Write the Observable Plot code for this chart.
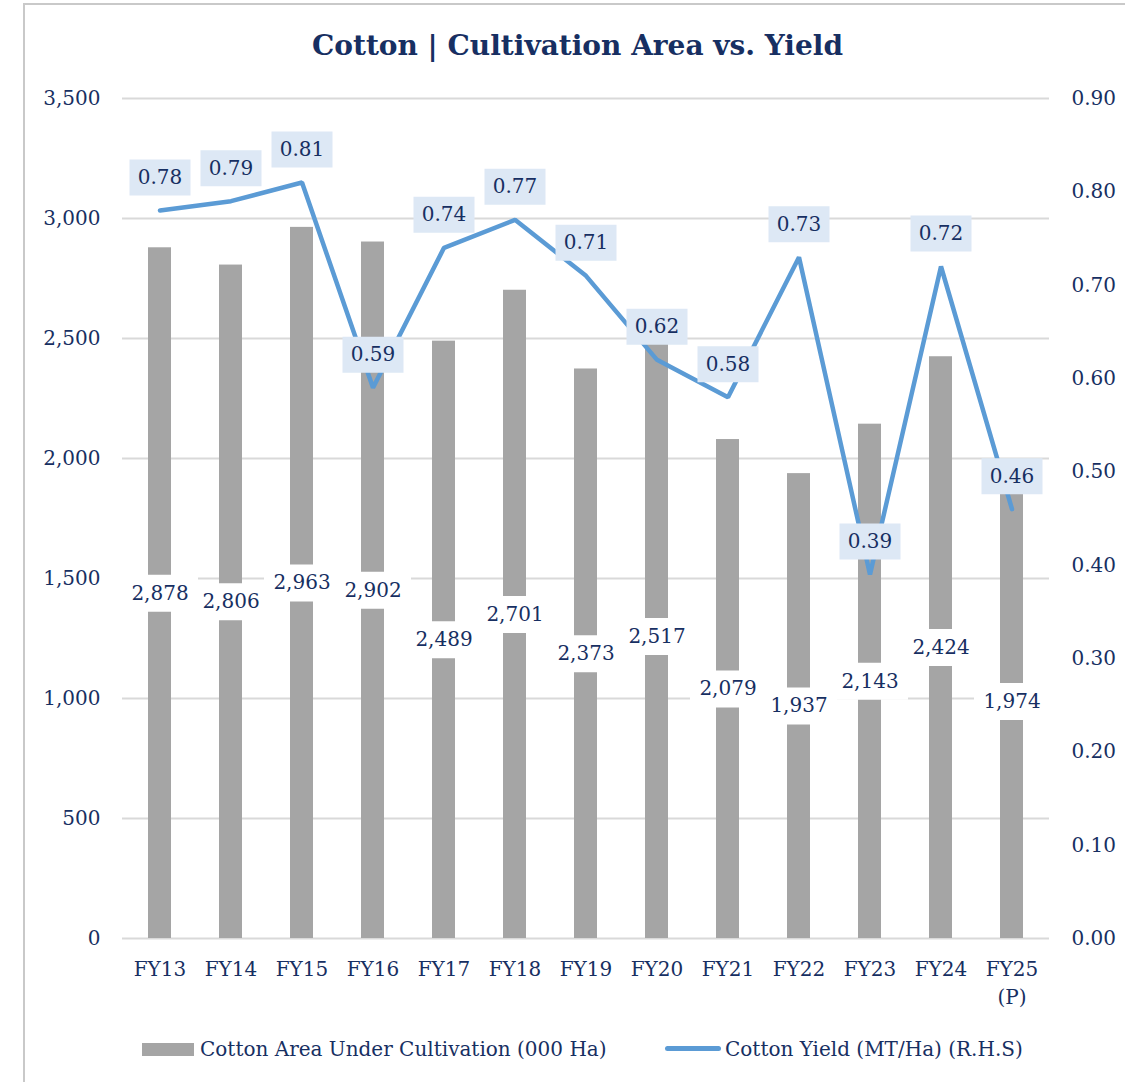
<!DOCTYPE html>
<html>
<head>
<meta charset="utf-8">
<script src="https://cdn.jsdelivr.net/npm/d3@7"></script>
<script src="https://cdn.jsdelivr.net/npm/@observablehq/plot@0.6"></script>
<style>
  body { margin: 0; background: #fff; font-family: "DejaVu Serif", serif; color: #172f62; }
  #page { position: relative; width: 1125px; height: 1082px; overflow: hidden; }
  #frame { position: absolute; left: 23px; top: 3px; width: 1200px; height: 1200px;
           border-left: 2px solid #c9c9c9; border-top: 2px solid #c9c9c9; }
  #title { position: absolute; left: 30px; width: 1095px; top: 27px; text-align: center;
           font-size: 28px; font-weight: bold; color: #172f62; line-height: 38px; }
  #chart { position: absolute; left: 0; top: 80px; }
  .sw { position: absolute; }
  .lg { position: absolute; font-size: 20px; line-height: 26px; color: #172f62; white-space: nowrap; }
</style>
</head>
<body>
<div id="page">
  <div id="frame"></div>
  <div id="title">Cotton | Cultivation Area vs. Yield</div>
  <div id="chart"></div>
  <div class="sw" style="left:142px;top:1043px;width:52px;height:13px;background:#a5a5a5"></div>
  <div class="lg" style="left:200px;top:1036px">Cotton Area Under Cultivation (000 Ha)</div>
  <div class="sw" style="left:665px;top:1046px;width:56px;height:5px;border-radius:3px;background:#5b9bd5"></div>
  <div class="lg" style="left:725px;top:1036px">Cotton Yield (MT/Ha) (R.H.S)</div>
</div>
<script>
const categories = ["FY13","FY14","FY15","FY16","FY17","FY18","FY19","FY20","FY21","FY22","FY23","FY24","FY25 (P)"];
const areaValues = [2878,2806,2963,2902,2489,2701,2373,2517,2079,1937,2143,2424,1974];
const yieldValues = [0.78,0.79,0.81,0.59,0.74,0.77,0.71,0.62,0.58,0.73,0.39,0.72,0.46];
const leftTicks = [0,500,1000,1500,2000,2500,3000,3500];
const rightTicks = [0,0.1,0.2,0.3,0.4,0.5,0.6,0.7,0.8,0.9];
const leftMax = 3500, rightMax = 0.9;

const k = leftMax / rightMax;
const data = categories.map((c, i) => ({cat: c, area: areaValues[i], yld: yieldValues[i]}));

const navy = "#172f62";
const rectSymbol = (w, h) => ({draw(ctx) { ctx.rect(-w/2, -h/2, w, h); ctx.closePath(); }});

const chart = Plot.plot({
  width: 1125,
  height: 940,
  marginLeft: 122,
  marginRight: 76,
  marginTop: 18,
  marginBottom: 82,
  style: {fontFamily: "'DejaVu Serif', serif", fontSize: "20px", color: navy, background: "transparent"},
  x: {domain: categories, paddingInner: 0.68, paddingOuter: 0.34, label: null},
  y: {domain: [0, leftMax], label: null},
  marks: [
    Plot.gridY(leftTicks, {stroke: "#d9d9d9", strokeOpacity: 1, strokeWidth: 2}),
    Plot.barY(data, {x: "cat", y: "area", fill: "#a5a5a5"}),
    Plot.dot(data, {x: "cat", y: d => d.area / 2, symbol: rectSymbol(76, 37), fill: "white", stroke: "none"}),
    Plot.text(data, {x: "cat", y: d => d.area / 2, text: d => d3.format(",")(d.area), fill: navy, fontSize: 20}),
    Plot.line(data, {x: "cat", y: d => d.yld * k, stroke: "#5b9bd5", strokeWidth: 4.5, strokeLinejoin: "miter"}),
    Plot.dot(data, {x: "cat", y: d => d.yld * k, dy: -33, symbol: rectSymbol(61, 36), fill: "#dde8f5", stroke: "none"}),
    Plot.text(data, {x: "cat", y: d => d.yld * k, dy: -33, text: d => d.yld.toFixed(2), fill: navy, fontSize: 20}),
    Plot.axisY(leftTicks, {anchor: "left", tickSize: 0, tickPadding: 22, tickFormat: d3.format(","), fontSize: 20, fill: navy}),
    Plot.axisY(rightTicks.map(v => v * k), {anchor: "right", tickSize: 0, tickPadding: 22, tickFormat: v => (v / k).toFixed(2), fontSize: 20, fill: navy}),
    Plot.axisX({tickSize: 0, tickPadding: 18, tickFormat: d => d.replace(" (", "\n("), fontSize: 20, lineHeight: 1.4, fill: navy})
  ]
});
document.getElementById("chart").appendChild(chart);
</script>
</body>
</html>
